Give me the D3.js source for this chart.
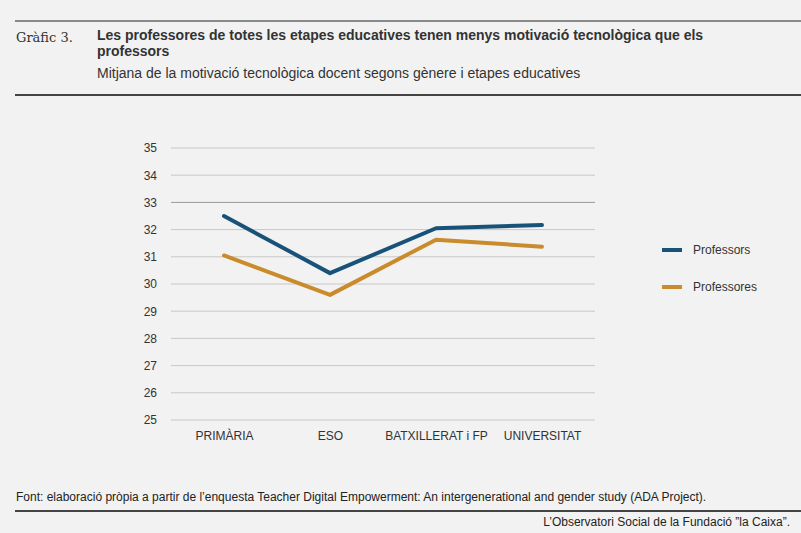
<!DOCTYPE html>
<html><head><meta charset="utf-8">
<script src="https://cdn.jsdelivr.net/npm/d3@7"></script>
<style>body{margin:0;background:#f2f2f2;font-family:"Liberation Sans",Arial,sans-serif}</style>
</head><body><svg id="chart" width="801" height="533"></svg>
<script>
var categories = ["PRIMÀRIA", "ESO", "BATXILLERAT i FP", "UNIVERSITAT"];
var professors = [32.5, 30.4, 32.05, 32.17];
var professores = [31.05, 29.6, 31.63, 31.37];
var yTicks = [25, 26, 27, 28, 29, 30, 31, 32, 33, 34, 35];

var svg = d3.select("#chart");
svg.append("rect").attr("width", 801).attr("height", 533).attr("fill", "#f2f2f2");

// header
svg.append("line").attr("x1", 15).attr("x2", 801).attr("y1", 21).attr("y2", 21).attr("stroke", "#666").attr("stroke-width", 1.5);
svg.append("text").attr("x", 16).attr("y", 42).attr("font-family", "'DejaVu Serif',serif").attr("font-size", 13).attr("fill", "#333").text("Gràfic 3.");
svg.append("text").attr("x", 97).attr("y", 40).attr("font-size", 14).attr("font-weight", "bold").attr("fill", "#333").text("Les professores de totes les etapes educatives tenen menys motivació tecnològica que els");
svg.append("text").attr("x", 97).attr("y", 56).attr("font-size", 14).attr("font-weight", "bold").attr("fill", "#333").text("professors");
svg.append("text").attr("x", 97).attr("y", 78).attr("font-size", 14).attr("fill", "#333").text("Mitjana de la motivació tecnològica docent segons gènere i etapes educatives");
svg.append("line").attr("x1", 15).attr("x2", 801).attr("y1", 95).attr("y2", 95).attr("stroke", "#444").attr("stroke-width", 2);

var x = d3.scalePoint().domain(categories).range([171, 595]).padding(0.5);
var y = d3.scaleLinear().domain([25, 35]).range([420, 148]);

svg.append("g").selectAll("line").data(yTicks).enter().append("line")
    .attr("x1", 171).attr("x2", 595)
    .attr("y1", function (d) { return y(d); }).attr("y2", function (d) { return y(d); })
    .attr("stroke", function (d) { return d == 33 ? "#999" : "#c8c8c8"; });

var yAxis = svg.append("g").attr("transform", "translate(160,0)")
    .call(d3.axisLeft(y).tickValues(yTicks).tickSize(0));
yAxis.select(".domain").remove();
yAxis.selectAll("text").attr("font-size", 12).attr("fill", "#333").attr("font-family", "'Liberation Sans',Arial");

var xAxis = svg.append("g").attr("transform", "translate(0,428)")
    .call(d3.axisBottom(x).tickSize(0));
xAxis.select(".domain").remove();
xAxis.selectAll("text").attr("font-size", 12).attr("fill", "#333").attr("font-family", "'Liberation Sans',Arial");

var series = [
    { name: "Professors", values: professors, color: "#195279" },
    { name: "Professores", values: professores, color: "#c98b2c" }
];
var line = d3.line().x(function (d, i) { return x(categories[i]); }).y(function (d) { return y(d); });
series.forEach(function (s, k) {
    svg.append("path").datum(s.values).attr("d", line)
        .attr("fill", "none").attr("stroke", s.color).attr("stroke-width", 4)
        .attr("stroke-linecap", "round").attr("stroke-linejoin", "round");
    var ly = 250 + k * 37;
    svg.append("line").attr("x1", 662).attr("x2", 682).attr("y1", ly).attr("y2", ly)
        .attr("stroke", s.color).attr("stroke-width", 4);
    svg.append("text").attr("x", 693).attr("y", ly + 4).attr("font-size", 12).attr("fill", "#333").text(s.name);
});

// footer
svg.append("text").attr("x", 16).attr("y", 501).attr("font-size", 12).attr("fill", "#222")
    .text("Font: elaboració pròpia a partir de l’enquesta Teacher Digital Empowerment: An intergenerational and gender study (ADA Project).");
svg.append("line").attr("x1", 15).attr("x2", 801).attr("y1", 511).attr("y2", 511).attr("stroke", "#444").attr("stroke-width", 2);
svg.append("text").attr("x", 790).attr("y", 526).attr("text-anchor", "end").attr("font-size", 12).attr("fill", "#222")
    .text("L’Observatori Social de la Fundació ”la Caixa”.");
</script></body></html>
